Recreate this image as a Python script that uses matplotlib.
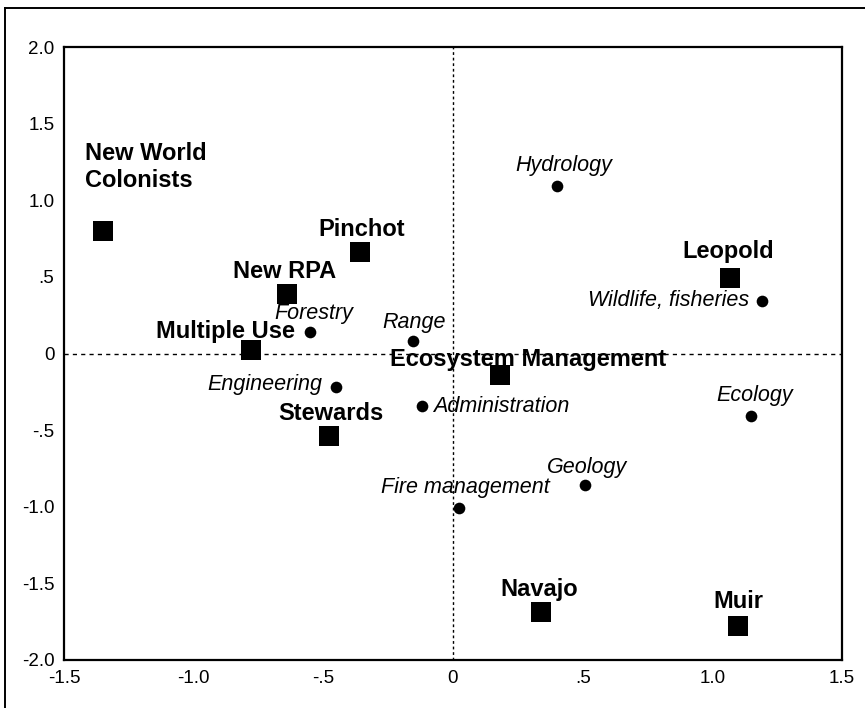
import matplotlib
matplotlib.use("Agg")
import matplotlib.pyplot as plt
from matplotlib.lines import Line2D

plt.rcParams['font.family'] = ['Liberation Sans', 'DejaVu Sans']

# philosophies (squares)
phil_names = ["New World\nColonists", "Pinchot", "New RPA", "Multiple Use", "Stewards",
              "Ecosystem Management", "Leopold", "Navajo", "Muir"]
phil_x = [-1.35, -0.36, -0.64, -0.78, -0.48, 0.18, 1.07, 0.34, 1.10]
phil_y = [0.80, 0.66, 0.39, 0.02, -0.54, -0.14, 0.49, -1.69, -1.78]

# professions (circles)
prof_names = ["Hydrology", "Wildlife, fisheries", "Forestry", "Range", "Engineering",
              "Administration", "Ecology", "Geology", "Fire management"]
prof_x = [0.40, 1.19, -0.55, -0.155, -0.45, -0.12, 1.15, 0.51, 0.025]
prof_y = [1.09, 0.34, 0.14, 0.08, -0.22, -0.34, -0.41, -0.86, -1.01]

x_ticks = [-1.5, -1.0, -0.5, 0, 0.5, 1.0, 1.5]
x_tick_labels = ["-1.5", "-1.0", "-.5", "0", ".5", "1.0", "1.5"]
y_ticks = [2.0, 1.5, 1.0, 0.5, 0, -0.5, -1.0, -1.5, -2.0]
y_tick_labels = ["2.0", "1.5", "1.0", ".5", "0", "-.5", "-1.0", "-1.5", "-2.0"]

# label placement: (dx, dy in pixels, horizontal alignment)
phil_offsets = [(-18, 44, "left"), (2, 16, "center"), (-2, 16, "center"), (44, 12, "right"),
                (2, 16, "center"), (-110, 9, "left"), (-2, 20, "center"), (-2, 16, "center"),
                (0, 18, "center")]
prof_offsets = [(7, 15, "center"), (-12, -5, "right"), (3, 13, "center"), (1, 13, "center"),
                (-14, -3, "right"), (11, -6, "left"), (3, 15, "center"), (2, 12, "center"),
                (6, 15, "center")]

fig = plt.figure(figsize=(8.65, 7.08), dpi=100)
ax = fig.add_axes([64 / 865, 1 - 660 / 708, 778 / 865, 613 / 708])

ax.axhline(0, color="black", lw=1, ls=(0, (3, 3)), zorder=1)
ax.axvline(0, color="black", lw=1, ls=(0, (2, 2)), zorder=1)

ax.plot(phil_x, phil_y, "s", color="black", markersize=14.4, markeredgewidth=0, zorder=3)
ax.plot(prof_x, prof_y, "o", color="black", markersize=8.4, markeredgewidth=0, zorder=3)

for name, x, y, (dx, dy, ha) in zip(phil_names, phil_x, phil_y, phil_offsets):
    ax.annotate(name, (x, y), xytext=(dx, dy), textcoords="offset pixels",
                ha=ha, va="baseline", fontsize=17, fontweight="bold", zorder=4)

for name, x, y, (dx, dy, ha) in zip(prof_names, prof_x, prof_y, prof_offsets):
    ax.annotate(name, (x, y), xytext=(dx, dy), textcoords="offset pixels",
                ha=ha, va="baseline", fontsize=15.5, fontstyle="italic", zorder=4)

ax.set_xlim(-1.5, 1.5)
ax.set_ylim(-2.0, 2.0)
ax.set_xticks(x_ticks, x_tick_labels)
ax.set_yticks(y_ticks, y_tick_labels)
ax.tick_params(length=0, labelsize=13.5, pad=7)
for s in ax.spines.values():
    s.set_linewidth(1.6)

# outer frame (left and top edges of the scanned box)
fig.add_artist(Line2D([5 / 865, 5 / 865], [0, 1 - 8 / 708], color="black", lw=1.4))
fig.add_artist(Line2D([5 / 865, 1], [1 - 8 / 708, 1 - 8 / 708], color="black", lw=1.4))

fig.savefig("out.png", dpi=100)
